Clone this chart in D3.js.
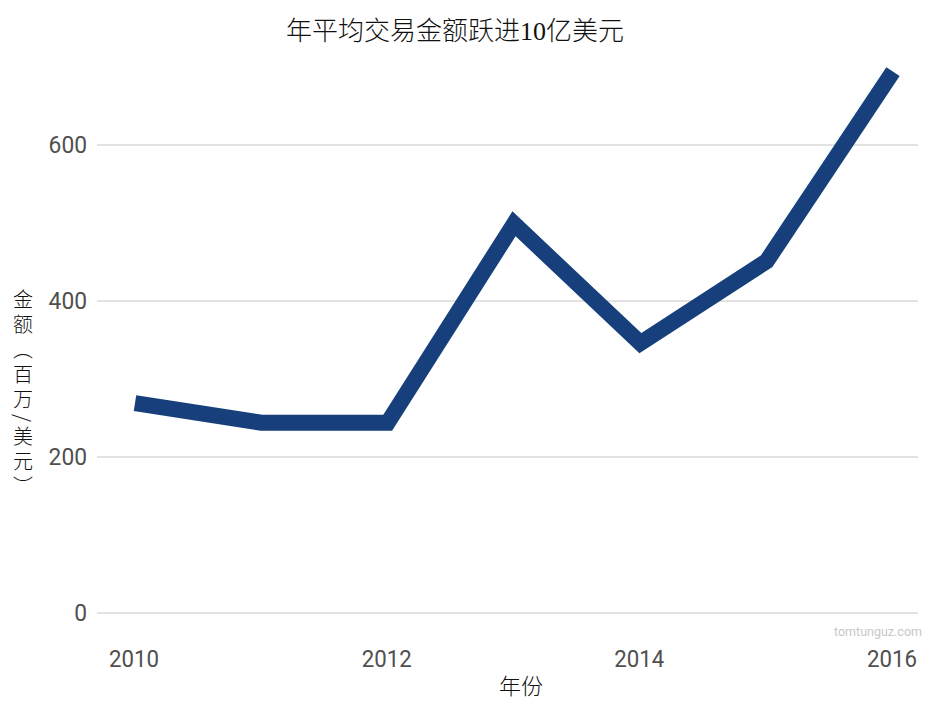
<!DOCTYPE html>
<html><head><meta charset="utf-8">
<script src="https://cdn.jsdelivr.net/npm/d3@7"></script>
<style>body{margin:0;background:#fff;}</style>
</head><body>
<svg id="c" width="949" height="705"></svg>
<script>
const years = [2010, 2011, 2012, 2013, 2014, 2015, 2016];
const values = [269, 244, 244, 499, 346, 451, 694];
const yTicks = [0, 200, 400, 600];
const xTicks = [2010, 2012, 2014, 2016];
const title = "年平均交易金额跃进10亿美元";
const xLabel = "年份";
const yLabel = "金额（百万/美元）";
const watermark = "tomtunguz.com";

const svg = d3.select("#c");
const x = d3.scaleLinear().domain([2010, 2016]).range([135, 893]);
const y = d3.scaleLinear().domain([0, 600]).range([613, 145]);

// grid
svg.append("g").selectAll("line").data(yTicks).join("line")
  .attr("x1", 97).attr("x2", 918)
  .attr("y1", d => y(d)).attr("y2", d => y(d))
  .attr("stroke", "#e2e2e2").attr("stroke-width", 2);

// y tick labels
svg.append("g").selectAll("text").data(yTicks).join("text")
  .attr("x", 87).attr("y", d => y(d)).attr("dy", "0.36em")
  .attr("text-anchor", "end")
  .attr("textLength", d => String(d).length * 12.8)
  .attr("lengthAdjust", "spacingAndGlyphs")
  .style("font-family", "Roboto, sans-serif").style("font-size", "23px")
  .style("fill", "#505050")
  .text(d => d);

// x tick labels
svg.append("g").selectAll("text").data(xTicks).join("text")
  .attr("x", d => x(d) - 1).attr("y", 667)
  .attr("text-anchor", "middle")
  .attr("textLength", 50)
  .attr("lengthAdjust", "spacingAndGlyphs")
  .style("font-family", "Roboto, sans-serif").style("font-size", "23px")
  .style("fill", "#505050")
  .text(d => d);

// line
const line = d3.line().x((d, i) => x(years[i])).y(d => y(d));
svg.append("path").datum(values)
  .attr("d", line)
  .attr("fill", "none").attr("stroke", "#173f7c")
  .attr("stroke-width", 16).attr("stroke-linejoin", "miter")
  .attr("stroke-linecap", "butt");

// title
svg.append("text").attr("x", 455).attr("y", 40).attr("text-anchor", "middle")
  .style("font-family", "'Liberation Serif', 'Noto Sans CJK SC', serif")
  .style("font-size", "26px").style("font-weight", "300").style("fill", "#111")
  .text(title);

// x label
svg.append("text").attr("x", 521).attr("y", 694).attr("text-anchor", "middle")
  .style("font-family", "'Liberation Serif', 'Noto Sans CJK SC', serif")
  .style("font-size", "22px").style("font-weight", "300").style("fill", "#111")
  .text(xLabel);

// y label vertical
svg.append("text").attr("x", 23).attr("y", 289)
  .style("writing-mode", "vertical-rl")
  .style("font-family", "'Noto Sans CJK SC', serif")
  .style("font-size", "20px").style("font-weight", "300").style("fill", "#111")
  .style("letter-spacing", "5px")
  .text(yLabel);

// watermark
svg.append("text").attr("x", 922).attr("y", 636).attr("text-anchor", "end")
  .style("font-family", "Roboto, sans-serif").style("font-size", "12.5px")
  .style("fill", "#c8c8c8")
  .text(watermark);
</script>
</body></html>
